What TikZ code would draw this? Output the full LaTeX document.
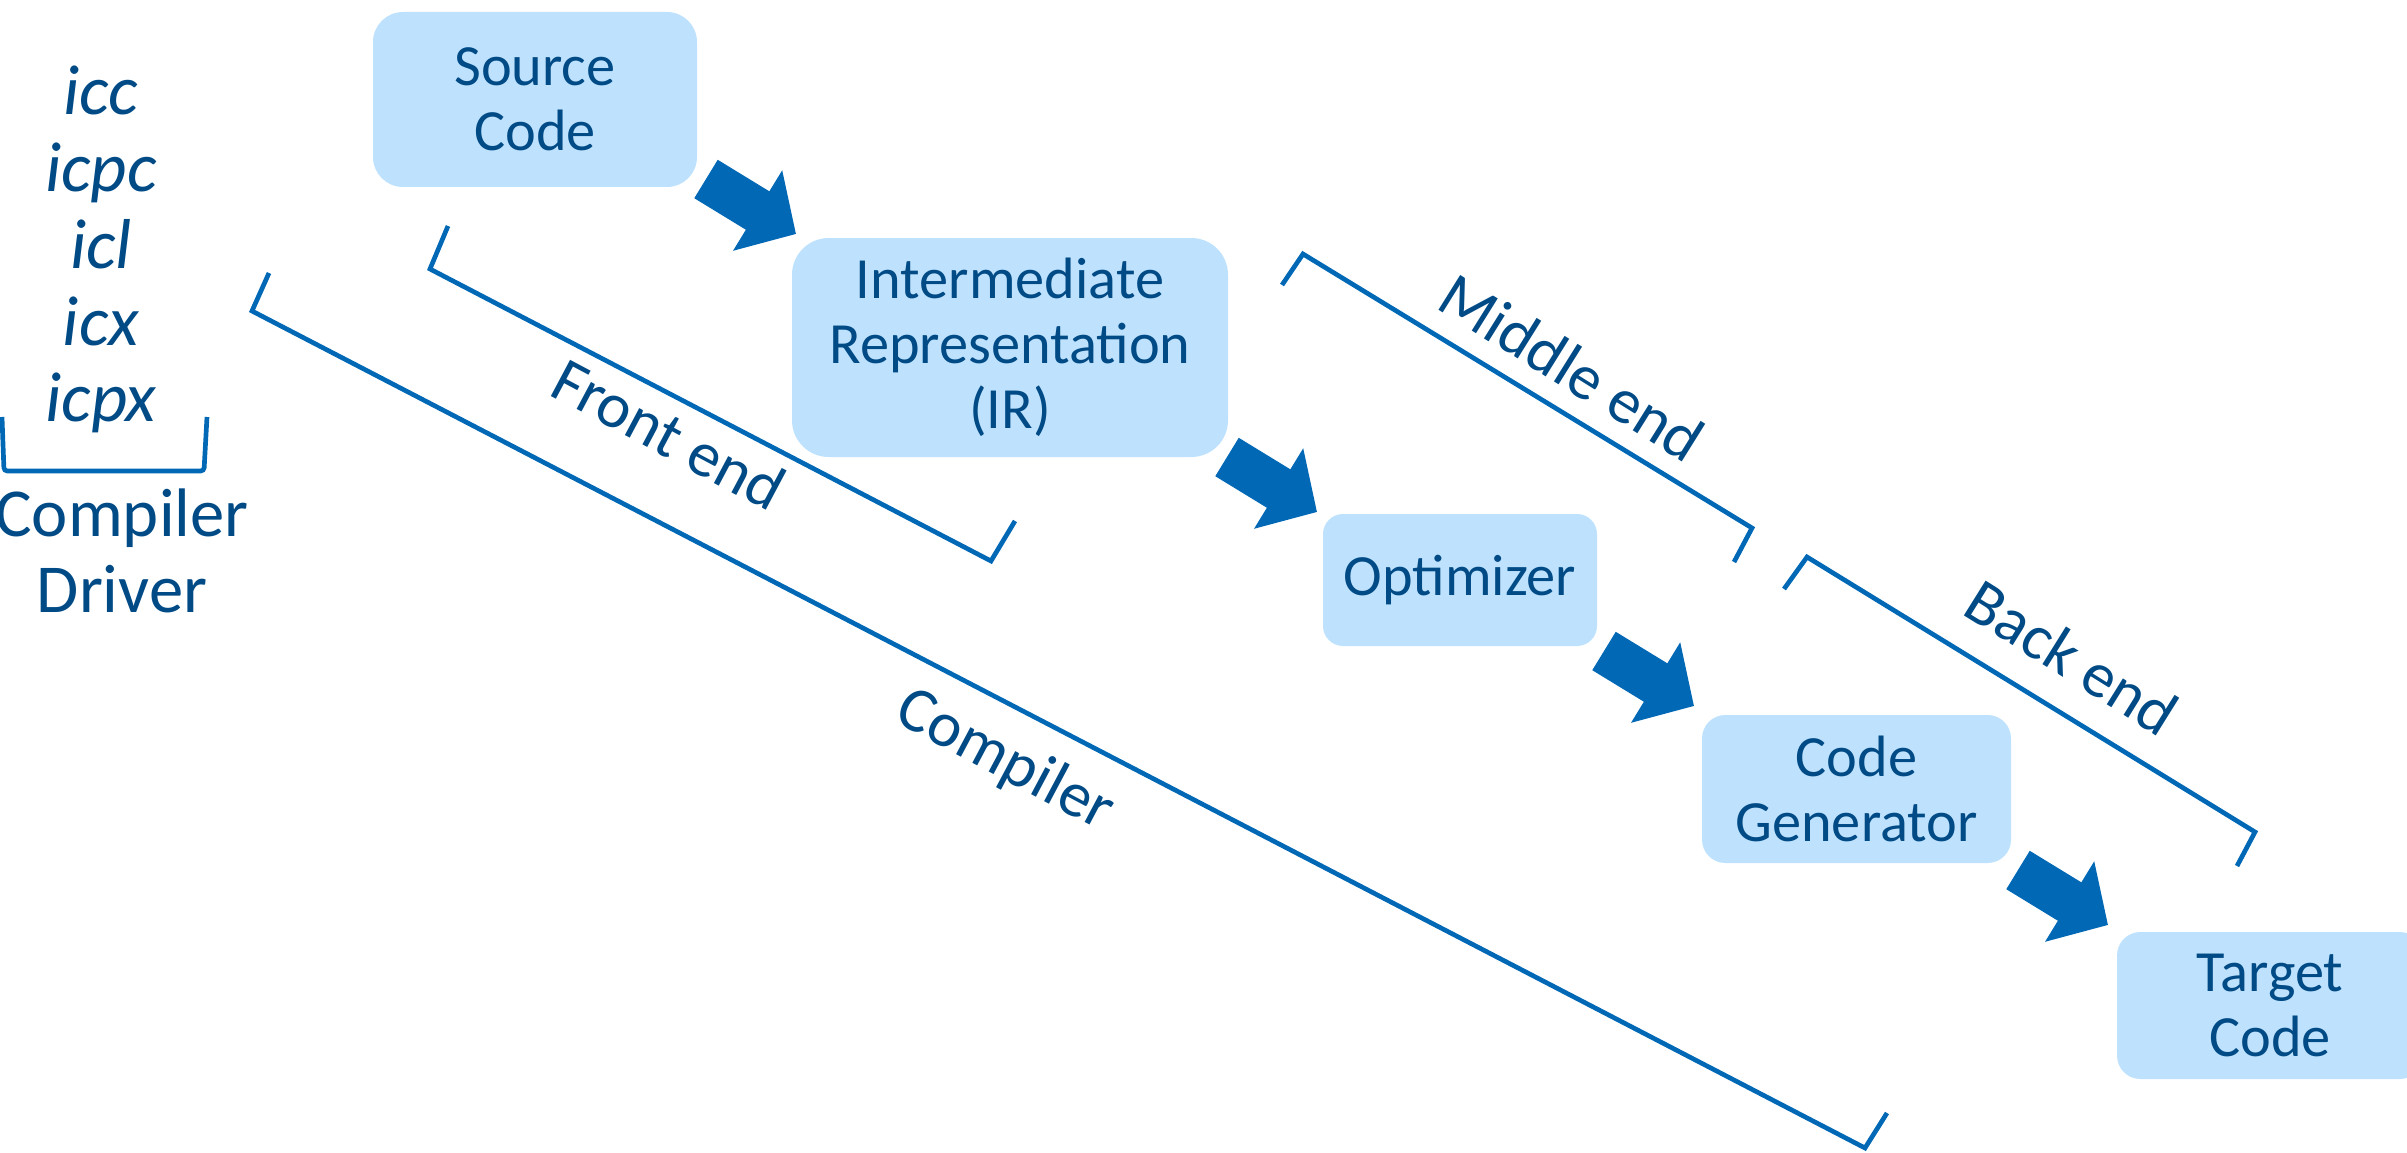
\documentclass[tikz,border=0pt]{standalone}
\usepackage{fontspec}
\setmainfont{Carlito}
\usetikzlibrary{arrows.meta}
\definecolor{boxfill}{RGB}{190,226,253}
\definecolor{txt}{RGB}{0,74,134}
\definecolor{ln}{RGB}{0,104,181}
\begin{document}
\begin{tikzpicture}[x=0.3pt,y=-0.3pt,
  stage/.style={fill=boxfill, text=txt, font=\fontsize{17.5}{19.5}\selectfont, align=center, inner sep=0pt},
  bigarrow/.style={line width=13.5pt, draw=ln, -{Triangle[length=13.5pt,width=27.5pt]}},
  brk/.style={draw=ln, line width=1.4pt},
  lbl/.style={text=txt, font=\fontsize{19.2}{22}\selectfont, inner sep=0pt},
  drv/.style={text=txt, font=\fontsize{21.2}{22}\selectfont\itshape, inner sep=0pt, anchor=base},
  drvlbl/.style={text=txt, font=\fontsize{20.6}{22.5}\selectfont, inner sep=0pt, anchor=base}]
\useasboundingbox (0,0) rectangle (2407,1153);
\begin{scope}
\clip (0,0) rectangle (2407,1153);
% stages
\node[stage, rounded corners=9pt, minimum width=97.2pt, minimum height=52.5pt] (src) at (535,99.5) {Source\\Code};
\node[stage, rounded corners=11pt, minimum width=130.8pt, minimum height=65.7pt] (ir) at (1010,347.5) {Intermediate\\Representation\\(IR)};
\node[stage, rounded corners=6pt, minimum width=82.2pt, minimum height=39.6pt] (opt) at (1460,580) {Optimizer};
\node[stage, rounded corners=7pt, minimum width=92.7pt, minimum height=44.4pt] (cg) at (1856.5,789) {Code\\Generator};
\node[stage, rounded corners=7pt, minimum width=91.8pt, minimum height=44.1pt] (tgt) at (2270,1005.5) {Target\\Code};
\end{scope}
% block arrows
\coordinate (a1s) at (706,179); \coordinate (a1e) at (796,234);
\coordinate (a2s) at (1227,457);   \coordinate (a2e) at (1317,512);
\coordinate (a3s) at (1604,651);   \coordinate (a3e) at (1694,706);
\coordinate (a4s) at (2018,870);   \coordinate (a4e) at (2108,925);
\draw[bigarrow] (a1s) -- (a1e);
\draw[bigarrow] (a2s) -- (a2e);
\draw[bigarrow] (a3s) -- (a3e);
\draw[bigarrow] (a4s) -- (a4e);
% driver list
\node[drv] (icc)  at (101,115) {icc};
\node[drv] (icpc) at (101,192) {icpc};
\node[drv] (icl)  at (101,269) {icl};
\node[drv] (icx)  at (101,345) {icx};
\node[drv] (icpx) at (101,421) {icpx};
\coordinate (d1) at (2,417); \coordinate (d2) at (4,471);
\coordinate (d3) at (204,471); \coordinate (d4) at (207,417);
\draw[brk, rounded corners=1pt] (d1) -- (d2) -- (d3) -- (d4);
\node[drvlbl] (cdrv1) at (122,536) {Compiler};
\node[drvlbl] (cdrv2) at (122,612) {Driver};
% front end bracket
\coordinate (f1) at (448,226); \coordinate (f2) at (430,269);
\coordinate (f3) at (991,561); \coordinate (f4) at (1015,521);
\draw[brk] (f1) -- (f2) -- (f3) -- (f4);
\node[lbl, rotate=-28] (fel) at (669,434) {Front end};
% compiler bracket
\coordinate (c1) at (269,273); \coordinate (c2) at (252,311);
\coordinate (c3) at (1865,1148); \coordinate (c4) at (1887,1113);
\draw[brk] (c1) -- (c2) -- (c3) -- (c4);
\node[lbl, rotate=-28] (cl) at (1005,761) {Compiler};
% middle end bracket
\coordinate (m1) at (1282,285); \coordinate (m2) at (1303,254);
\coordinate (m3) at (1752,528); \coordinate (m4) at (1734,562);
\draw[brk] (m1) -- (m2) -- (m3) -- (m4);
\node[lbl, rotate=-32] (ml) at (1572,367) {Middle end};
% back end bracket
\coordinate (b1) at (1784,589); \coordinate (b2) at (1807,557);
\coordinate (b3) at (2255,832); \coordinate (b4) at (2237,866);
\draw[brk] (b1) -- (b2) -- (b3) -- (b4);
\node[lbl, rotate=-32] (bl) at (2072,657) {Back end};
\end{tikzpicture}
\end{document}
